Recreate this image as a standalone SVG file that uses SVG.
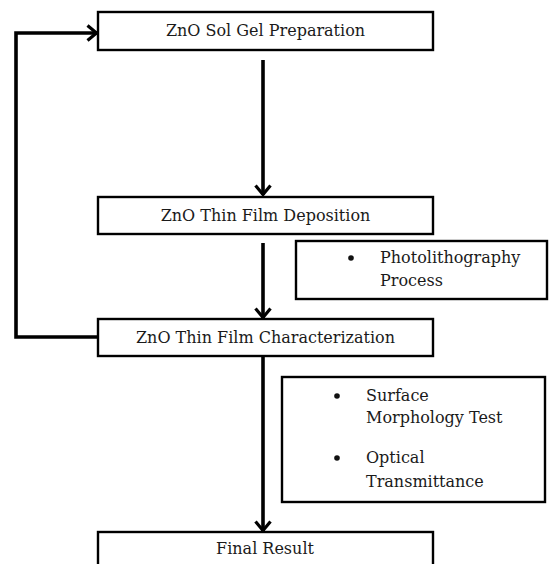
<svg xmlns="http://www.w3.org/2000/svg" width="549" height="564" viewBox="0 0 549 564">
<defs>
<marker id="arr" viewBox="0 0 14 18" refX="11.5" refY="9" markerWidth="14" markerHeight="18" markerUnits="userSpaceOnUse" orient="auto">
<path d="M2,1.5 L11,9 L2,16.5" fill="none" stroke="#000" stroke-width="3.2" stroke-linejoin="miter"/>
</marker>
<style>
.box{fill:#fff;stroke:#000;stroke-width:2.4}
.t{font-family:"DejaVu Serif","Liberation Serif",serif;font-size:16px;fill:#1a1a1a}
.c{text-anchor:middle}
.ln{fill:none;stroke:#000;stroke-width:3.6}
</style>
</defs>
<rect width="549" height="564" fill="#fff"/>
<g id="connectors">
<line class="ln" x1="263" y1="60" x2="263" y2="195" marker-end="url(#arr)"/>
<line class="ln" x1="263" y1="243" x2="263" y2="318" marker-end="url(#arr)"/>
<line class="ln" x1="263" y1="357" x2="263" y2="531" marker-end="url(#arr)"/>
<polyline class="ln" points="98,337 16,337 16,33 97,33" marker-end="url(#arr)"/>
</g>
<g id="n1">
<rect class="box" x="98" y="12" width="335" height="38"/>
<text class="t c" x="265.5" y="36">ZnO Sol Gel Preparation</text>
</g>
<g id="n2">
<rect class="box" x="98" y="197" width="335" height="37"/>
<text class="t c" x="265.5" y="221">ZnO Thin Film Deposition</text>
</g>
<g id="n3">
<rect class="box" x="98" y="319" width="335" height="37"/>
<text class="t c" x="265.5" y="343">ZnO Thin Film Characterization</text>
</g>
<g id="n4">
<rect class="box" x="98" y="532" width="335" height="40"/>
<text class="t c" x="265" y="554">Final Result</text>
</g>
<g id="photo">
<rect class="box" x="296" y="241" width="251" height="58"/>
<circle cx="351" cy="258" r="2.8" fill="#111"/>
<text class="t" x="380" y="263">Photolithography</text>
<text class="t" x="380" y="286">Process</text>
</g>
<g id="char">
<rect class="box" x="282" y="377" width="263" height="125"/>
<circle cx="337" cy="396" r="2.8" fill="#111"/>
<text class="t" x="366" y="401">Surface</text>
<text class="t" x="366" y="423">Morphology Test</text>
<circle cx="337" cy="458" r="2.8" fill="#111"/>
<text class="t" x="366" y="463">Optical</text>
<text class="t" x="366" y="487">Transmittance</text>
</g>
</svg>
